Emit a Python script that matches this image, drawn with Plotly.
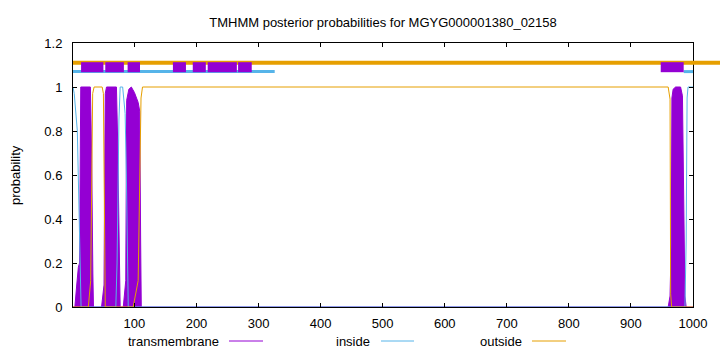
import plotly.graph_objects as go

# ---------------- data ----------------
# posterior probability curves: residue position / probability
tm_pos = [1, 4, 7, 9.6, 11.5, 12.3, 13.5, 29, 31, 33, 34,
          47, 49, 51, 52, 53, 55, 71, 73, 75, 77,
          82, 84, 86, 87.5, 91, 95, 100, 106, 108.5, 110, 111,
          960, 963, 965, 966, 968, 972, 980, 983, 985, 987, 989, 1000]
tm_prob = [0, 0, 0.1, 0.18, 0.2, 0.9, 1.0, 1.0, 0.7, 0.15, 0,
           0, 0.05, 0.1, 0.6, 0.97, 1.0, 1.0, 0.75, 0.3, 0,
           0, 0.05, 0.12, 0.94, 0.99, 1.0, 0.975, 0.93, 0.89, 0.3, 0,
           0, 0.05, 0.3, 0.95, 0.99, 1.0, 1.0, 0.96, 0.5, 0.05, 0, 0]

inside_pos = [1, 3, 8, 10.7, 14, 70, 72, 75, 77, 81, 83, 85, 87, 89, 90,
              987, 989, 990.5, 992, 1000]
inside_prob = [1.0, 0.97, 0.8, 0.42, 0, 0, 0.2, 0.85, 1.0, 1.0, 0.95, 0.88, 0.6, 0.15, 0,
               0, 0.3, 0.95, 1.0, 1.0]

outside_pos = [1, 25.7, 29.5, 32.7, 35, 48, 50, 53, 98, 106, 110.6, 113,
               960, 963, 964, 965.6, 1000]
outside_prob = [0, 0, 0.12, 0.97, 1.0, 1.0, 0.97, 0, 0, 0.12, 0.95, 1.0,
                1.0, 0.945, 0.06, 0, 0]

# predicted topology strip (segments start/end)
tm_seg_start = [14, 53, 89, 162, 194, 218, 267, 948]
tm_seg_end = [50, 83, 109, 183, 215, 265, 289, 985]
inside_seg_start = [1, 985]
inside_seg_end = [326, 1000]
outside_seg_start = [1]
outside_seg_end = [1050]

x_ticks = [100, 200, 300, 400, 500, 600, 700, 800, 900, 1000]
y_ticks = [0, 0.2, 0.4, 0.6, 0.8, 1.0, 1.2]

title_text = "TMHMM posterior probabilities for MGYG000001380_02158"
legend_names = ["transmembrane", "inside", "outside"]

# ---------------- styling ----------------
C_TM = "#9400d3"
C_IN = "#56b4e9"
C_OUT = "#e69f00"
FONT = "Liberation Sans, Arial, sans-serif"

W, H = 720, 352
ML, MR, MT, MB = 73, 0, 43, 45
plot_w = W - ML - MR          # 647
axis_right = 693
dom = (axis_right - ML) / plot_w
x_min, x_max = 1, 1000
x2_max = x_min + (x_max - x_min) / dom
px_per_unit = (H - MT - MB) / 1.2


def strip_bar(starts, ends, level, thick_px, color):
    return go.Bar(orientation="h", y=[level] * len(starts), base=starts,
                  x=[e - s for s, e in zip(starts, ends)],
                  width=thick_px / px_per_unit, xaxis="x2",
                  marker=dict(color=color, line=dict(width=0)),
                  showlegend=False, hoverinfo="skip")


fig = go.Figure()

# curves
fig.add_trace(go.Scatter(x=tm_pos, y=tm_prob, mode="lines", fill="tozeroy",
                         fillcolor=C_TM, line=dict(color=C_TM, width=1),
                         name=legend_names[0]))
fig.add_trace(go.Scatter(x=inside_pos, y=inside_prob, mode="lines",
                         line=dict(color=C_IN, width=1), name=legend_names[1]))
fig.add_trace(go.Scatter(x=outside_pos, y=outside_prob, mode="lines",
                         line=dict(color=C_OUT, width=1), name=legend_names[2]))

# topology strip (on a wider hidden axis so the outside band can run past the frame)
fig.add_trace(strip_bar(outside_seg_start, outside_seg_end, 1.11, 4, C_OUT))
fig.add_trace(strip_bar(inside_seg_start, inside_seg_end, 1.07, 3, C_IN))
fig.add_trace(strip_bar(tm_seg_start, tm_seg_end, 1.09, 10, C_TM))

fig.update_layout(
    width=W, height=H,
    margin=dict(l=ML, r=MR, t=MT, b=MB, pad=0, autoexpand=False),
    paper_bgcolor="white", plot_bgcolor="rgba(0,0,0,0)",
    showlegend=False, barmode="overlay",
    font=dict(family=FONT, size=13, color="black"),
    title=dict(text=title_text, x=(dom / 2) * plot_w / W + ML / W,
               xref="container", xanchor="center",
               y=1 - 22 / H, yref="container", yanchor="middle",
               font=dict(family=FONT, size=13, color="black")),
    xaxis=dict(domain=[0, dom], range=[x_min, x_max], tickvals=x_ticks,
               showgrid=False, zeroline=False, showline=True, linecolor="black",
               linewidth=1, mirror="ticks", ticks="inside", ticklen=4,
               tickcolor="black", ticklabelstandoff=4, automargin=False,
               tickfont=dict(family=FONT, size=13, color="black")),
    xaxis2=dict(domain=[0, 1], range=[x_min, x2_max], anchor="y",
                visible=False, showgrid=False, zeroline=False, automargin=False),
    yaxis=dict(range=[0, 1.2], tickvals=y_ticks, anchor="x",
               showgrid=False, zeroline=False, showline=True, linecolor="black",
               linewidth=1, mirror="ticks", ticks="inside", ticklen=4,
               tickcolor="black", ticklabelstandoff=7, automargin=False,
               tickfont=dict(family=FONT, size=13, color="black")),
)

# y-axis label
fig.add_annotation(text="probability", xref="paper", yref="paper",
                   x=(15 - ML) / plot_w, y=0.5, textangle=-90, showarrow=False,
                   xanchor="center", yanchor="middle",
                   font=dict(family=FONT, size=13, color="black"))

# gnuplot-style key: text then sample line
ly = (H - MB - 341) / (H - MT - MB)
text_right = [221, 372, 524]
line_x = [(229, 263), (381, 414), (532, 566)]
for name, tr, (a, b), col in zip(legend_names, text_right, line_x, [C_TM, C_IN, C_OUT]):
    fig.add_annotation(text=name, xref="paper", yref="paper",
                       x=(tr - ML) / plot_w, y=ly, xanchor="right", yanchor="middle",
                       showarrow=False, font=dict(family=FONT, size=13, color="black"))
    fig.add_shape(type="line", xref="paper", yref="paper",
                  x0=(a - ML) / plot_w, x1=(b - ML) / plot_w, y0=ly, y1=ly,
                  line=dict(color=col, width=1))

fig.write_html("out.html")
